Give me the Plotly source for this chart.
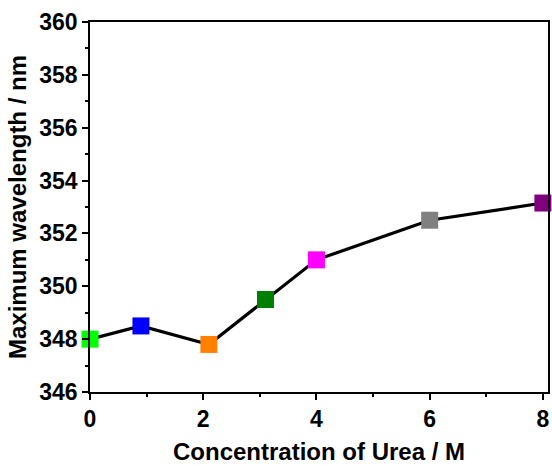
import plotly.graph_objects as go

urea = [0, 0.9, 2.1, 3.1, 4.0, 6.0, 8.0]
wavelength = [348.0, 348.5, 347.8, 349.5, 351.0, 352.5, 353.15]
colors = ["#00ff00", "#0000ff", "#ff8000", "#008000", "#ff00ff", "#808080", "#800080"]

fig = go.Figure()
fig.add_trace(go.Scatter(
    x=urea, y=wavelength, mode="lines+markers",
    line=dict(color="black", width=3.2),
    marker=dict(symbol="square", size=17, color=colors, line=dict(width=0)),
    cliponaxis=False, showlegend=False,
))

font = "Liberation Sans, Arial, sans-serif"
fig.update_layout(
    width=552, height=465,
    margin=dict(l=90, r=4, t=22, b=73),
    paper_bgcolor="white", plot_bgcolor="white",
    font=dict(family=font, color="black"),
)
fig.update_xaxes(
    range=[0, 8.09], tickvals=[0, 2, 4, 6, 8], automargin=False,
    ticks="outside", ticklen=6, tickwidth=1.5, tickcolor="black",
    minor=dict(tickvals=[1, 3, 5, 7], ticks="outside", ticklen=3, tickwidth=1.5, tickcolor="black"),
    showline=True, linecolor="black", linewidth=1.5, mirror=True,
    showgrid=False, zeroline=False,
    tickfont=dict(size=23, family=font, weight="bold"),
    title=dict(text="Concentration of Urea / M", font=dict(size=24, family=font, weight="bold"), standoff=12),
)
fig.update_yaxes(
    range=[346, 360], tickvals=[346, 348, 350, 352, 354, 356, 358, 360], automargin=False,
    ticks="outside", ticklen=6, tickwidth=1.5, tickcolor="black",
    minor=dict(tickvals=[347, 349, 351, 353, 355, 357, 359], ticks="outside", ticklen=3, tickwidth=1.5, tickcolor="black"),
    showline=True, linecolor="black", linewidth=1.5, mirror=True,
    showgrid=False, zeroline=False,
    tickfont=dict(size=23, family=font, weight="bold"),
    title=dict(text="Maximum wavelength / nm", font=dict(size=24, family=font, weight="bold"), standoff=6),
)
fig.write_html("out.html", config={"displayModeBar": False},
               post_script="document.body.style.margin='0';document.body.style.padding='0';")
